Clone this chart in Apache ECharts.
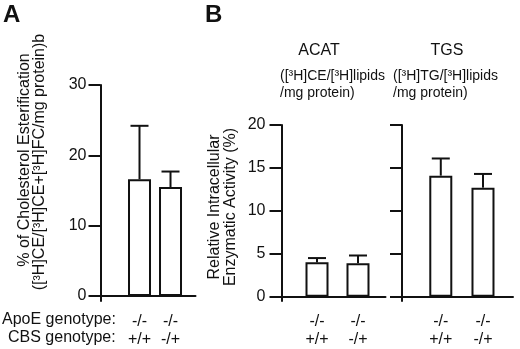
<!DOCTYPE html>
<html>
<head>
<meta charset="utf-8">
<script src="https://cdn.jsdelivr.net/npm/echarts@6/dist/echarts.min.js"></script>
<style>
html,body{margin:0;padding:0;background:#fff;}
#chart{width:520px;height:349px;}
</style>
</head>
<body>
<div id="chart"></div>
<script>
// ---- data ----
const apoeGenotype = ['-/-', '-/-'];
const cbsGenotype = ['+/+', '-/+'];
const groupPos = [1, 2];
const cholEsterMean = [16.6, 15.5];
const cholEsterSD = [7.6, 2.2];
const acatMean = [4.0, 3.9];
const acatSD = [0.5, 0.9];
const tgsMean = [14.1, 12.7];
const tgsSD = [2.0, 1.6];
const yTicksA = [0, 10, 20, 30];
const yTicksB = [0, 5, 10, 15, 20];

const FONT = '"Liberation Sans", Arial, sans-serif';
const INK = '#111';

const chart = echarts.init(document.getElementById('chart'), null, {renderer: 'canvas'});

function xAxisDef(gi, min, max) {
  return {
    type: 'value', gridIndex: gi, min: min, max: max,
    splitLine: {show: false},
    axisLine: {show: true, onZero: true, lineStyle: {color: INK, width: 2}},
    axisTick: {show: false},
    axisLabel: {
      show: true,
      customValues: groupPos,
      margin: 12,
      fontFamily: FONT, fontSize: 16, color: INK, lineHeight: 18,
      formatter: function (v) {
        const i = groupPos.indexOf(v);
        return i < 0 ? '' : apoeGenotype[i] + '\n' + cbsGenotype[i];
      }
    }
  };
}
function yAxisDef(gi, min, max, ticks, showLabels, margin) {
  return {
    type: 'value', gridIndex: gi, min: min, max: max,
    splitLine: {show: false},
    axisLine: {show: true, onZero: false, lineStyle: {color: INK, width: 2}},
    axisTick: {show: true, customValues: ticks, length: 12, lineStyle: {color: INK, width: 2}},
    axisLabel: {show: showLabels, customValues: ticks, margin: margin, fontFamily: FONT, fontSize: 16, color: INK}
  };
}
function barSeries(gi, mean) {
  return {
    type: 'bar', xAxisIndex: gi, yAxisIndex: gi,
    barWidth: 23,
    data: groupPos.map((x, i) => [x, mean[i]]),
    itemStyle: {color: '#fff', borderColor: INK, borderWidth: 2},
    silent: true
  };
}
function errSeries(gi, mean, sd) {
  return {
    type: 'custom', xAxisIndex: gi, yAxisIndex: gi, z: 5,
    data: groupPos.map((x, i) => [x, mean[i], mean[i] + sd[i]]),
    renderItem: function (params, api) {
      const p1 = api.coord([api.value(0), api.value(1)]);
      const p2 = api.coord([api.value(0), api.value(2)]);
      const st = {stroke: INK, lineWidth: 2};
      return {type: 'group', children: [
        {type: 'line', shape: {x1: p1[0], y1: p1[1], x2: p2[0], y2: p2[1]}, style: st},
        {type: 'line', shape: {x1: p2[0] - 9, y1: p2[1], x2: p2[0] + 9, y2: p2[1]}, style: st}
      ]};
    },
    silent: true
  };
}

function txt(x, y, text, opts) {
  return Object.assign({
    type: 'text', x: x, y: y,
    style: Object.assign({text: text, fontFamily: FONT, fontSize: 16, fill: INK,
      textAlign: 'left', textVerticalAlign: 'middle'}, (opts && opts.style) || {})
  }, opts && opts.rotation !== undefined ? {rotation: opts.rotation} : {});
}

const option = {
  animation: false,
  backgroundColor: '#fff',
  grid: [
    {left: 100.5, width: 95, top: 85, height: 218},
    {left: 281.5, width: 104, top: 125, height: 178.5},
    {left: 402, width: 111, top: 125, height: 178.5}
  ],
  xAxis: [
    xAxisDef(0, -0.258, 2.806),
    xAxisDef(1, 0.134, 2.671),
    xAxisDef(2, 0.081, 2.711)
  ],
  yAxis: [
    yAxisDef(0, -0.7, 30, yTicksA, true, 14),
    yAxisDef(1, -0.5, 20, yTicksB, true, 16),
    yAxisDef(2, -0.5, 20, yTicksB, false, 16)
  ],
  series: [
    barSeries(0, cholEsterMean), errSeries(0, cholEsterMean, cholEsterSD),
    barSeries(1, acatMean), errSeries(1, acatMean, acatSD),
    barSeries(2, tgsMean), errSeries(2, tgsMean, tgsSD)
  ],
  graphic: [
    txt(3, 15, 'A', {style: {fontSize: 24, fontWeight: 'bold'}}),
    txt(205, 15, 'B', {style: {fontSize: 24, fontWeight: 'bold'}}),
    txt(25, 160, '% of Cholesterol Esterification', {rotation: Math.PI / 2, style: {textAlign: 'center'}}),
    txt(40, 162, '([³H]CE/[³H]CE+[³H]FC/mg protein)b', {rotation: Math.PI / 2, style: {textAlign: 'center'}}),
    txt(215, 207, 'Relative Intracellular', {rotation: Math.PI / 2, style: {textAlign: 'center'}}),
    txt(231, 207, 'Enzymatic Activity (%)', {rotation: Math.PI / 2, style: {textAlign: 'center'}}),
    txt(319, 51, 'ACAT', {style: {textAlign: 'center'}}),
    txt(280, 76, '([³H]CE/[³H]lipids', {style: {fontSize: 14}}),
    txt(280, 93, '/mg protein)', {style: {fontSize: 14}}),
    txt(447, 51, 'TGS', {style: {textAlign: 'center'}}),
    txt(393, 76, '([³H]TG/[³H]lipids', {style: {fontSize: 14}}),
    txt(393, 93, '/mg protein)', {style: {fontSize: 14}}),
    txt(2, 320, 'ApoE genotype:'),
    txt(8, 338, 'CBS genotype:')
  ]
};
chart.setOption(option);
</script>
</body>
</html>
